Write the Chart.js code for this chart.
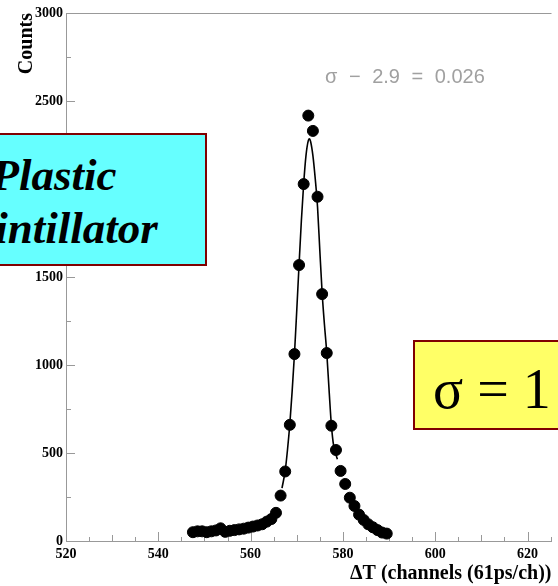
<!DOCTYPE html>
<html>
<head>
<meta charset="utf-8">
<script src="https://cdn.jsdelivr.net/npm/chart.js@4/dist/chart.umd.min.js"></script>
<style>
  html, body { margin:0; padding:0; background:#fff; overflow:hidden; }
  #wrap { position:relative; width:558px; height:586px; overflow:hidden; }
  #wrap canvas { position:absolute; left:0; top:0; }
  .note { position:absolute; white-space:nowrap; }
  #fitnote { left:325px; top:66px; font:20px "Liberation Sans", sans-serif; line-height:20px; color:#a0a0a0; word-spacing:6px; }
  #box1 { position:absolute; left:-83px; top:133px; width:290px; height:133px; box-sizing:border-box;
          background:#66ffff; border:2px solid #800000; }
  #box1 div { position:absolute; left:-8px; width:100%; text-align:center; font:italic bold 45px "Liberation Serif", serif; line-height:45px; color:#000; white-space:nowrap; }
  #box2 { position:absolute; left:413px; top:340px; width:220px; height:90px; box-sizing:border-box;
          background:#ffff66; border:2px solid #800000; }
  #box2 div { position:absolute; left:18px; top:19px; font:56px "Liberation Serif", serif; line-height:56px; color:#000; white-space:nowrap; }
</style>
</head>
<body>
<div id="wrap">
  <canvas id="c" width="558" height="586"></canvas>
  <div id="fitnote" class="note">σ − 2.9 = 0.026</div>
  <div id="box1"><div style="top:18px">Plastic</div><div style="top:71px">Scintillator</div></div>
  <div id="box2"><div>σ = 1</div></div>
</div>
<script>
// ---- data ----
const channels = [547.5,548.5,549.5,550.5,551.5,552.5,553.5,554.5,555.5,556.5,557.5,558.5,559.5,560.5,561.5,562.5,563.5,564.5,565.5,566.5,567.5,568.5,569.5,570.5,571.5,572.5,573.5,574.5,575.5,576.5,577.5,578.5,579.5,580.5,581.5,582.5,583.5,584.5,585.5,586.5,587.5,588.5,589.5];
const counts   = [50,55,55,50,55,60,72,52,58,62,66,70,76,82,88,95,110,125,160,258,395,660,1062,1568,2028,2417,2330,1956,1403,1068,655,517,398,324,246,199,150,120,95,78,62,48,42];
const fitX = [566.8,567.5,568.0,568.5,569.0,569.5,570.0,570.5,571.0,571.5,572.0,572.5,572.75,573.0,573.5,574.0,574.5,575.0,575.5,576.0,576.5,577.0,577.5,578.0,578.5,578.8];
const fitY = [300,400,520,665,850,1060,1310,1570,1820,2030,2190,2275,2285,2270,2190,2060,1900,1650,1410,1230,1070,860,660,540,490,465];
const xTickValues = [520,540,560,580,600,620];
const yTickValues = [0,500,1000,1500,2000,2500,3000];
const xTitle = 'ΔT (channels (61ps/ch))';
const yTitle = 'Counts';

const pts = channels.map((x,i)=>({x:x, y:counts[i]}));
const fit = fitX.map((x,i)=>({x:x, y:fitY[i]}));

const tickFont = {family:'"Liberation Serif", serif', size:14, weight:'bold'};
const AXIS = '#999999';

const frameTicks = {
  id:'frameTicks',
  beforeDatasetsDraw(chart){
    const {ctx, chartArea:a, scales:{x, y}} = chart;
    ctx.save();
    ctx.strokeStyle = AXIS; ctx.lineWidth = 1;
    ctx.beginPath();
    ctx.moveTo(a.left, a.top + 0.5); ctx.lineTo(a.right, a.top + 0.5);
    for (let v = y.min; v <= y.max; v += 250) {
      const p = Math.round(y.getPixelForValue(v)) + 0.5;
      const len = v % 500 === 0 ? 9 : 5;
      ctx.moveTo(a.left, p); ctx.lineTo(a.left + len, p);
    }
    for (let v = x.min; v <= x.max; v += 5) {
      const p = Math.round(x.getPixelForValue(v)) + 0.5;
      const len = v % 20 === 0 ? 9 : (v % 10 === 0 ? 6 : 4);
      ctx.moveTo(p, a.bottom); ctx.lineTo(p, a.bottom - len);
    }
    ctx.stroke();
    ctx.restore();
  }
};

new Chart(document.getElementById('c'), {
  type:'scatter',
  data:{
    datasets:[
      {label:'fit', type:'line', data:fit, borderColor:'#000', borderWidth:1.6, pointRadius:0, fill:false, tension:0.4, cubicInterpolationMode:'monotone', order:2},
      {label:'data', data:pts, backgroundColor:'#000', borderColor:'#000', pointRadius:5.5, pointHoverRadius:5.5, order:1}
    ]
  },
  options:{
    responsive:false, animation:false, devicePixelRatio:1,
    layout:{padding:{top:13, left:0, right:0, bottom:0}},
    plugins:{legend:{display:false}, tooltip:{enabled:false}},
    scales:{
      x:{
        type:'linear', min:520, max:625.2,
        afterBuildTicks(s){ s.ticks = xTickValues.map(v=>({value:v})); },
        afterFit(s){ s.height = 45; },
        grid:{drawOnChartArea:false, drawTicks:false},
        border:{display:true, color:AXIS, width:1},
        ticks:{font:tickFont, color:'#000', padding:5, maxRotation:0, autoSkip:false, callback:(v)=>String(v)},
        title:{display:true, text:xTitle, align:'end', color:'#000', font:{family:'"Liberation Serif", serif', size:20, weight:'bold'}, padding:{top:0, bottom:0}}
      },
      y:{
        type:'linear', min:0, max:3000,
        afterBuildTicks(s){ s.ticks = yTickValues.map(v=>({value:v})); },
        afterFit(s){ s.width = 66; },
        grid:{drawOnChartArea:false, drawTicks:false},
        border:{display:true, color:AXIS, width:1},
        ticks:{font:tickFont, color:'#000', padding:3, autoSkip:false, callback:(v)=>String(v)},
        title:{display:true, text:yTitle, align:'end', color:'#000', font:{family:'"Liberation Serif", serif', size:20, weight:'bold'}, padding:{top:15, bottom:0}}
      }
    }
  },
  plugins:[frameTicks]
});
</script>
</body>
</html>
